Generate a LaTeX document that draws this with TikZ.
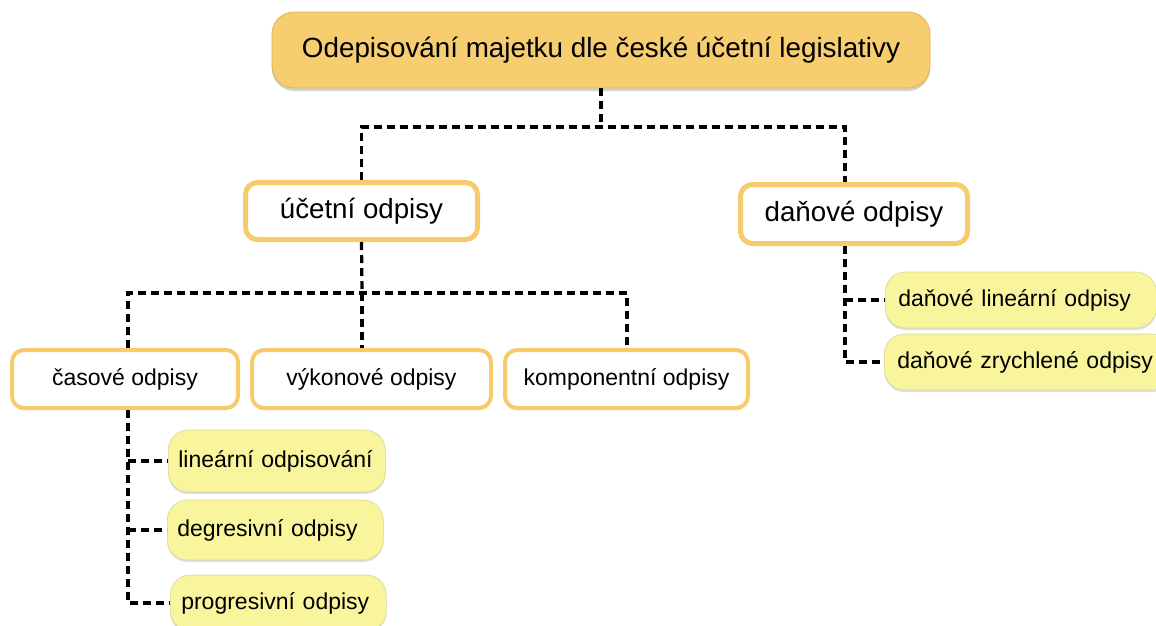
\documentclass[tikz,border=0pt]{standalone}
\usepackage{fontspec}
\setmainfont{Liberation Sans}
\usetikzlibrary{shadows}
\definecolor{gold}{HTML}{F6CD6F}
\definecolor{golddark}{HTML}{E0B256}
\definecolor{goldedge}{HTML}{F7CA6C}
\definecolor{leafy}{HTML}{F8F59C}
\definecolor{leafedge}{HTML}{D9D69E}
\tikzset{
  titlebox/.style={draw=golddark, line width=0.8pt, fill=gold, rounded corners=22pt,
    minimum width=658pt, minimum height=76pt, inner sep=0pt,
    font=\fontsize{27.8}{33}\selectfont,
    drop shadow={opacity=0.35, shadow xshift=0pt, shadow yshift=-3pt}},
  mainbox/.style={draw=goldedge, line width=5pt, fill=white, rounded corners=12pt,
    minimum height=57pt, inner sep=0pt, font=\fontsize{27.7}{33}\selectfont,
    drop shadow={opacity=0.25, shadow xshift=0pt, shadow yshift=-2pt}},
  subbox/.style={draw=goldedge, line width=4pt, fill=white, rounded corners=12pt,
    minimum height=58pt, inner sep=0pt, font=\fontsize{23}{28}\selectfont,
    drop shadow={opacity=0.25, shadow xshift=0pt, shadow yshift=-2pt}},
  leaf/.style={fill=leafy, draw=leafedge, line width=0.6pt, rounded corners=20pt,
    anchor=west, align=left, inner xsep=10pt, inner ysep=0pt,
    font=\fontsize{23}{28}\selectfont,
    drop shadow={opacity=0.25, shadow xshift=0pt, shadow yshift=-2pt}},
  link/.style={line width=3.2pt, dash pattern=on 8pt off 5pt}
}
\begin{document}
\begin{tikzpicture}[x=1pt, y=-1pt]
  \fill[white] (0,0) rectangle (1156,625);
  \useasboundingbox (0,0) rectangle (1156,625);

  % root
  \node[titlebox] (root) at (601,50) {Odepisování majetku dle české účetní legislativy};

  % first level
  \node[mainbox, minimum width=232pt] (ucet) at (361.5,211) {účetní odpisy};
  \node[mainbox, minimum width=227pt, minimum height=59pt] (dan) at (854,214) {daňové odpisy};

  % second level under účetní odpisy
  \node[subbox, minimum width=226pt] (cas) at (125,379) {časové odpisy};
  \node[subbox, minimum width=239pt] (vyk) at (371.5,379) {výkonové odpisy};
  \node[subbox, minimum width=243pt] (komp) at (626.5,379) {komponentní odpisy};

  % leaves under časové odpisy
  \node[leaf, text width=197pt, minimum height=62pt] (lin) at (168,461) {lineární odpisování};
  \node[leaf, text width=196pt, minimum height=60pt] (deg) at (167,530) {degresivní odpisy};
  \node[leaf, text width=194pt, inner xsep=11pt, minimum height=56pt] (prog) at (170,603) {progresivní odpisy};

  % leaves under daňové odpisy
  \node[leaf, text width=245pt, inner xsep=13pt, minimum height=56pt] (dlin) at (885,300) {daňové lineární odpisy};
  \node[leaf, text width=262pt, inner xsep=13pt, minimum height=56pt] (dzr) at (884,362) {daňové zrychlené odpisy};

  % junction points
  \coordinate (rj) at (601,127);
  \coordinate (uj) at (362,293);
  \coordinate (dt) at ([xshift=-9pt]dan.south);
  \coordinate (ct) at ([xshift=3pt]cas.south);

  % root to first level
  \draw[link] (root.south) -- (rj);
  \draw[link] (ucet.north) |- ([xshift=-9pt]dan.north |- rj) -- ([xshift=-9pt]dan.north);

  % účetní odpisy to second level
  \draw[link] (ucet.south) -- (uj);
  \draw[link] ([xshift=3pt]cas.north) |- ([xshift=0.5pt]komp.north |- uj) -- ([xshift=0.5pt]komp.north);
  \draw[link] (uj) -- (uj |- vyk.north);

  % časové odpisy to leaves
  \draw[link] (ct) |- (prog.west);
  \draw[link] (lin.west -| ct) -- (lin.west);
  \draw[link] (deg.west -| ct) -- (deg.west);

  % daňové odpisy to leaves
  \draw[link] (dt) |- (dzr.west);
  \draw[link] (dlin.west -| dt) -- (dlin.west);
\end{tikzpicture}
\end{document}
